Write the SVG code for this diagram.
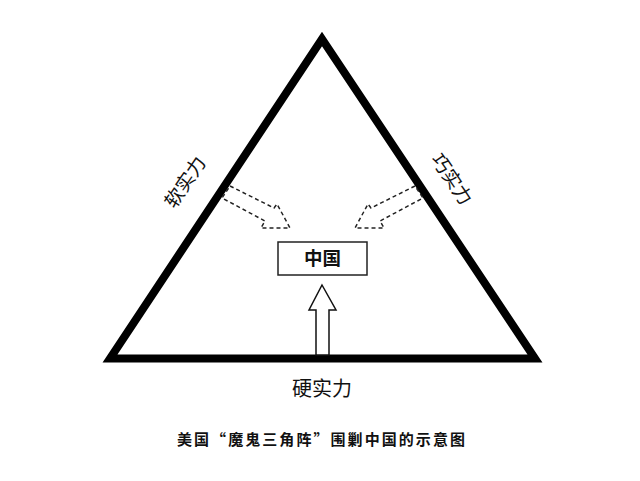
<svg xmlns="http://www.w3.org/2000/svg" width="640" height="481" viewBox="0 0 640 481">
<style>
.t{font-family:"Noto Sans CJK SC","Noto Sans",sans-serif;fill:#111;text-anchor:middle}
.dash{fill:none;stroke:#222;stroke-width:1.5;stroke-dasharray:4 3}
</style>
<rect width="640" height="481" fill="#fff"/>
<g id="triangle">
<polygon points="322,39 110,358.5 535,358.5" fill="none" stroke="#000" stroke-width="8" stroke-linejoin="miter" stroke-miterlimit="10"/>
</g>
<g id="connectors">
<polygon class="dash" points="230,186 274,208 277,204 290,228 261,228 265,221 222,198"/>
<polygon class="dash" points="415,186 371,208 368,204 355,228 384,228 380,221 423,198"/>
<polygon points="322,285 336,310 329,310 329,355 316,355 316,310 309,310" fill="#fff" stroke="#111" stroke-width="1.5" stroke-linejoin="miter"/>
</g>
<g id="china">
<rect x="278" y="242" width="89" height="33" fill="#fff" stroke="#222" stroke-width="1.5"/>
<text class="t" x="322.5" y="265" font-size="18.5" font-weight="bold">中国</text>
</g>
<g id="soft">
<text class="t" font-size="19" transform="translate(185,182) rotate(-56)" y="7">软实力</text>
</g>
<g id="smart">
<text class="t" font-size="19" transform="translate(452,179) rotate(56)" y="7">巧实力</text>
</g>
<g id="hard">
<text class="t" x="322" y="396" font-size="20">硬实力</text>
</g>
<g id="caption">
<text class="t" x="321" y="445" font-size="15" font-weight="bold" textLength="288" lengthAdjust="spacing">美国“魔鬼三角阵”围剿中国的示意图</text>
</g>
</svg>
